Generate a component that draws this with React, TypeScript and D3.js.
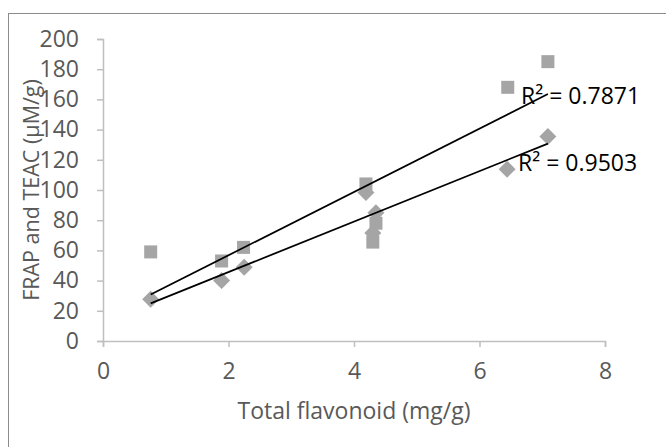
import React, { useRef, useEffect } from 'react';
import * as d3 from 'd3';

// FRAP series (squares)
const frapX = [0.76, 1.89, 2.24, 4.19, 4.35, 4.3, 6.45, 7.09];
const frapY = [59, 53, 62, 104, 78, 65.5, 168, 185];
// TEAC series (diamonds)
const teacX = [0.76, 1.89, 2.25, 4.19, 4.35, 4.3, 6.44, 7.09];
const teacY = [27.6, 40, 48.8, 98.3, 85, 71.5, 113.8, 135.4];

const xTicks = [0, 2, 4, 6, 8];
const yTicks = [0, 20, 40, 60, 80, 100, 120, 140, 160, 180, 200];
const r2Labels = ['R² = 0.7871', 'R² = 0.9503'];

const W = 666;
const H = 447;
const FONT = '"Open Sans", sans-serif';
const FS = '23px';

// least squares fit, returns [slope, intercept]
const fit = (xs: number[], ys: number[]) => {
  const mx = d3.mean(xs) as number;
  const my = d3.mean(ys) as number;
  let num = 0, den = 0;
  xs.forEach((x, i) => {
    num += (x - mx) * (ys[i] - my);
    den += (x - mx) * (x - mx);
  });
  const b = num / den;
  return [b, my - b * mx];
};

const Chart = () => {
  const ref = useRef<SVGSVGElement>(null);

  useEffect(() => {
    const svg = d3.select(ref.current);
    svg.selectAll('*').remove();

    const margin = { top: 39, left: 103, right: 61, bottom: 106 };
    const x = d3.scaleLinear().domain([0, 8]).range([margin.left, W - margin.right]);
    const y = d3.scaleLinear().domain([0, 200]).range([H - margin.bottom, margin.top]);

    svg.append('rect')
      .attr('width', W).attr('height', H).attr('fill', '#fff');

    // chart frame (only top and left are inside the picture)
    svg.append('rect')
      .attr('x', 8.5).attr('y', 13.5)
      .attr('width', 800).attr('height', 600)
      .attr('fill', 'none')
      .attr('stroke', '#8c8c8c');

    const axisColor = '#bfbfbf';
    const textColor = '#595959';

    // y axis
    const yAxis = svg.append('g')
      .attr('transform', `translate(${x(0)},0)`)
      .call(d3.axisLeft(y).tickValues(yTicks).tickSize(6).tickPadding(18));
    yAxis.select('.domain').attr('stroke', axisColor).attr('stroke-width', 1.5);
    yAxis.selectAll('.tick line').attr('stroke', axisColor).attr('stroke-width', 1.5);
    yAxis.selectAll('.tick text')
      .attr('fill', textColor)
      .style('font-family', FONT)
      .style('font-size', FS);

    // x axis
    const xAxis = svg.append('g')
      .attr('transform', `translate(0,${y(0)})`)
      .call(d3.axisBottom(x).tickValues(xTicks).tickSize(6).tickPadding(16));
    xAxis.select('.domain').attr('stroke', axisColor).attr('stroke-width', 1.5);
    xAxis.selectAll('.tick line').attr('stroke', axisColor).attr('stroke-width', 1.5);
    xAxis.selectAll('.tick text')
      .attr('fill', textColor)
      .style('font-family', FONT)
      .style('font-size', FS);

    // axis titles
    svg.append('text')
      .attr('x', (x(0) + x(8)) / 2)
      .attr('y', 419)
      .attr('text-anchor', 'middle')
      .attr('fill', textColor)
      .style('font-family', FONT)
      .style('font-size', FS)
      .text('Total flavonoid (mg/g)');

    svg.append('text')
      .attr('transform', `translate(39,${(y(0) + y(200)) / 2}) rotate(-90)`)
      .attr('text-anchor', 'middle')
      .attr('fill', textColor)
      .style('font-family', FONT)
      .style('font-size', '21.5px')
      .text('FRAP and TEAC (μM/g)');

    const markColor = '#a5a5a5';

    // squares
    const sq = 13;
    svg.append('g').selectAll('rect')
      .data(frapX)
      .join('rect')
      .attr('x', (d) => x(d) - sq / 2)
      .attr('y', (d, i) => y(frapY[i]) - sq / 2)
      .attr('width', sq)
      .attr('height', sq)
      .attr('fill', markColor);

    // diamonds
    const dm = 8.5;
    svg.append('g').selectAll('path')
      .data(teacX)
      .join('path')
      .attr('d', (d, i) => {
        const cx = x(d), cy = y(teacY[i]);
        return `M${cx},${cy - dm}L${cx + dm},${cy}L${cx},${cy + dm}L${cx - dm},${cy}Z`;
      })
      .attr('fill', markColor);

    // trend lines
    const line = d3.line<[number, number]>().x((d) => x(d[0])).y((d) => y(d[1]));
    [[frapX, frapY], [teacX, teacY]].forEach(([xs, ys]) => {
      const [b, a] = fit(xs, ys);
      const x0 = d3.min(xs) as number;
      const x1 = d3.max(xs) as number;
      svg.append('path')
        .attr('d', line([[x0, a + b * x0], [x1, a + b * x1]]))
        .attr('stroke', '#000')
        .attr('stroke-width', 1.75)
        .attr('fill', 'none');
    });

    // R² labels
    const labelPos = [[521, 104], [518, 171]];
    r2Labels.forEach((t, i) => {
      svg.append('text')
        .attr('x', labelPos[i][0])
        .attr('y', labelPos[i][1])
        .attr('fill', '#000')
        .style('font-family', FONT)
        .style('font-size', FS)
        .text(t);
    });
  }, []);

  return (
    <svg
      ref={ref}
      width={W}
      height={H}
      style={{ position: 'absolute', left: 0, top: 0 }}
    />
  );
};

export default function App() {
  return <Chart />;
}
